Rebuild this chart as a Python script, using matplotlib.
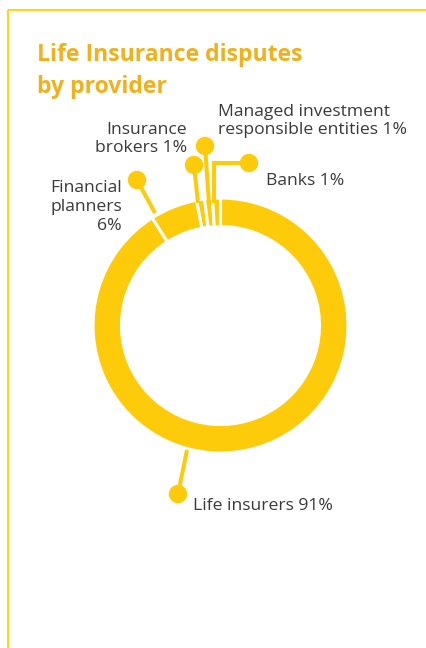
import matplotlib
matplotlib.use("Agg")
import matplotlib.pyplot as plt
from matplotlib.patches import Circle

# Life insurance disputes by provider (share of disputes, %)
providers = ["Life insurers", "Financial planners", "Insurance brokers",
             "Managed investment\nresponsible entities", "Banks"]
shares = [91, 6, 1, 1, 1]

RING = "#FECB0B"
TITLE = "#F0B11D"
BORDER = "#FFD100"
TEXT = "#3A3A3A"

W, H = 427, 648
fig = plt.figure(figsize=(W / 100, H / 100), dpi=100)
ax = fig.add_axes([0, 0, 1, 1])
ax.set_xlim(0, W)
ax.set_ylim(0, H)
ax.set_aspect("equal")
ax.axis("off")
plt.rcParams["font.family"] = ["Open Sans", "DejaVu Sans"]


def Y(y):
    # convert a top-down pixel row to the axes' bottom-up coordinate
    return H - y


# frame lines (top and left)
ax.plot([8, W], [Y(10), Y(10)], color=BORDER, lw=1.3, solid_capstyle="butt")
ax.plot([8, 8], [Y(10), 0], color=BORDER, lw=1.3, solid_capstyle="butt")

# donut
cx, cy, r_out, ring_w = 220.5, Y(325.5), 127.5, 28.5
ax.pie(shares, startangle=90, counterclock=False, center=(cx, cy), radius=r_out,
       colors=[RING] * len(shares),
       wedgeprops=dict(width=ring_w, edgecolor="white", linewidth=2.2))
ax.set_xlim(0, W)
ax.set_ylim(0, H)

# leader lines with dot ends
lw = 2.9
leaders = [
    [(187, 450), (178, 494)],             # life insurers
    [(155, 213), (137, 180)],             # financial planners
    [(198, 203), (194, 165)],             # insurance brokers
    [(209, 203), (205, 146)],             # managed investment
    [(214, 203), (214, 163), (249, 163)], # banks
]
for pts in leaders:
    xs = [p[0] for p in pts]
    ys = [Y(p[1]) for p in pts]
    ax.plot(xs, ys, color=RING, lw=lw, solid_capstyle="butt",
            solid_joinstyle="miter", zorder=3)
    ax.add_patch(Circle((xs[-1], ys[-1]), 8.5, color=RING, zorder=4))

# title
ax.text(37, Y(55), "Life Insurance disputes", color=TITLE, fontsize=16.6,
        fontweight="bold", va="center", ha="left")
ax.text(37, Y(87), "by provider", color=TITLE, fontsize=16.6,
        fontweight="bold", va="center", ha="left")

fs = 12.6
ls = 1.22
ax.text(193, Y(506), f"{providers[0]} {shares[0]}%", color=TEXT, fontsize=fs,
        va="center", ha="left")
ax.text(122, Y(207), f"Financial\nplanners\n{shares[1]}%", color=TEXT,
        fontsize=fs, va="center", ha="right", multialignment="right",
        linespacing=ls)
ax.text(187, Y(139), f"Insurance\nbrokers {shares[2]}%", color=TEXT,
        fontsize=fs, va="center", ha="right", multialignment="right",
        linespacing=ls)
ax.text(218, Y(121), f"{providers[3]} {shares[3]}%", color=TEXT,
        fontsize=fs, va="center", ha="left", linespacing=ls)
ax.text(266, Y(181), f"{providers[4]} {shares[4]}%", color=TEXT, fontsize=fs,
        va="center", ha="left")

fig.savefig("out.png", dpi=100, facecolor="white")
